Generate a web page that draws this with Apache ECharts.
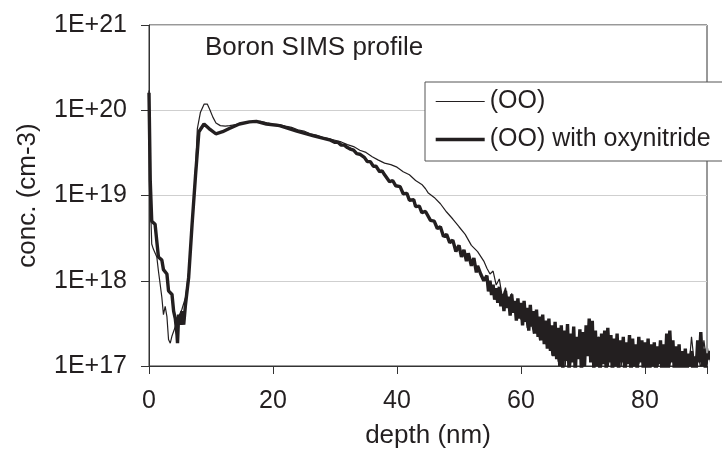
<!DOCTYPE html>
<html><head><meta charset="utf-8">
<script src="https://cdn.jsdelivr.net/npm/echarts@6/dist/echarts.min.js"></script>
<style>html,body{margin:0;padding:0;background:#fff}#c{width:722px;height:454px}</style>
</head><body><div id="c"></div>
<script>
const titleText = 'Boron SIMS profile';
const seriesNames = ['(OO)', '(OO) with oxynitride'];
const xTicks = [0, 20, 40, 60, 80];
const yTickLabels = ['1E+17', '1E+18', '1E+19', '1E+20', '1E+21'];

// (OO) thin line
const depthOO = [0,0.2,0.44,0.7,0.98,1.26,1.52,1.8,2.07,2.33,2.61,2.89,3.15,3.43,3.71,4.24,4.78,5.3,5.9,6.4,
  7.0,7.5,7.8,8.3,8.9,9.4,9.8,10.3,10.8,11.5,12.3,13,14,15,16,17,18,19,20,21,
  22,23,24,25,26,27,28,29,30,31,32,33,34,35,36,37,38,39,40,41,
  42,43,44,44.6,45,46,47,48,49,50,51,52,53,54,
  54.5,55,55.5,56,56.5,57,57.5,58,58.5,59,59.5,60,60.5,61,61.5,62,62.5,63,63.5,64,
  64.5,65,65.5,66,66.5,67,67.5,68,68.5,69,69.5,70,70.5,71,71.5,72,72.5,73,73.5,74,
  74.5,75,75.5,76,76.5,77,77.5,78,78.5,79,79.5,80,80.5,81,81.5,82,82.5,83,83.5,84,
  84.5,85,85.5,86,86.5,87,87.5,88,88.5,89,89.5,90,90.5,91];
const concOO = [1.7e20,1.0e19,2.7e18,2.35e18,2.45e18,1.9e18,1.3e18,9.1e17,6.4e17,4.0e17,5.0e17,3.8e17,2.05e17,1.85e17,2.25e17,2.9e17,3.8e17,4.6e17,6.4e17,1.26e18,
  4.8e18,2.1e19,6.1e19,9.5e19,1.18e20,1.18e20,1.02e20,8.3e19,7.1e19,6.6e19,6.5e19,6.6e19,6.8e19,7.0e19,7.3e19,7.4e19,7.4e19,7.1e19,6.9e19,6.8e19,
  6.5e19,6.3e19,5.9e19,5.7e19,5.3e19,5.1e19,4.8e19,4.65e19,4.45e19,4.25e19,3.95e19,3.75e19,3.4e19,3.2e19,2.85e19,2.6e19,2.4e19,2.3e19,2.15e19,1.9e19,
  1.75e19,1.5e19,1.35e19,1.2e19,1.08e19,9.5e18,8.0e18,6.4e18,5.3e18,4.3e18,3.5e18,2.6e18,2.2e18,1.7e18,
  1.4e18,1.2e18,1.3e18,8.9e17,1.05e18,6.3e17,8.3e17,5.0e17,7.1e17,4.2e17,5.6e17,3.5e17,5.2e17,2.8e17,4.0e17,2.4e17,3.5e17,2.0e17,3.0e17,1.8e17,
  2.6e17,1.32e17,2.4e17,1.12e17,2.2e17,7.9e16,2.0e17,1.0e17,2.5e17,1.26e17,1.9e17,8.9e16,2.6e17,1.4e17,3.2e17,1.2e17,2.2e17,1.0e17,1.8e17,8.3e16,
  2.2e17,1.12e17,1.9e17,7.9e16,1.66e17,1.0e17,2.0e17,8.9e16,1.6e17,1.05e17,1.8e17,7.9e16,1.9e17,1.0e17,1.5e17,8.3e16,1.8e17,8.9e16,2.1e17,1.0e17,
  1.6e17,8.3e16,1.4e17,8.9e16,1.32e17,7.9e16,2.2e17,1.0e17,1.6e17,8.9e16,2.0e17,1.05e17,1.8e17,1.26e17];

// (OO) with oxynitride thick line
const depthON = [0,0.2,0.44,0.98,1.26,1.52,2.07,2.33,2.89,3.15,3.71,3.97,4.24,4.52,4.6,4.78,5.06,5.33,5.6,5.88,
  6.4,6.94,7.5,8.05,8.87,9.68,10.78,11.87,12.95,14.58,16.21,17.31,18.94,21.06,23.84,26.56,29.27,
  30,30.5,31,31.5,32,32.5,33,33.5,34,34.73,35.2,35.7,36.2,36.62,37.2,37.6,
  38,38.8,39.3,39.8,40.5,41,41.6,42,42.7,43,43.6,44,44.6,45.4,46,46.5,47,47.5,48,48.5,49,
  49.5,50,50.4,50.8,51.2,51.5,52,52.4,52.8,53,53.5,54,
  54.25,54.5,54.75,55, 55.25,55.5,55.75,56, 56.25,56.5,56.75,57, 57.25,57.5,57.75,58, 58.25,58.5,58.75,59,
  59.25,59.5,59.75,60, 60.25,60.5,60.75,61, 61.25,61.5,61.75,62, 62.25,62.5,62.75,63, 63.25,63.5,63.75,64,
  64.25,64.5,64.75,65, 65.25,65.5,65.75,66, 66.25,66.5,66.75,67, 67.25,67.5,67.75,68, 68.25,68.5,68.75,69,
  69.25,69.5,69.75,70, 70.25,70.5,70.75,71, 71.25,71.5,71.75,72, 72.25,72.5,72.75,73, 73.25,73.5,73.75,74,
  74.25,74.5,74.75,75, 75.25,75.5,75.75,76, 76.25,76.5,76.75,77, 77.25,77.5,77.75,78, 78.25,78.5,78.75,79,
  79.25,79.5,79.75,80, 80.25,80.5,80.75,81, 81.25,81.5,81.75,82, 82.25,82.5,82.75,83, 83.25,83.5,83.75,84,
  84.25,84.5,84.75,85, 85.25,85.5,85.75,86, 86.25,86.5,86.75,87, 87.25,87.5,87.75,88, 88.25,88.5,88.75,89,
  89.25,89.5,89.75,90, 90.25,90.5,90.75,91];
const concON = [1.6e20,1.5e19,5.0e18,4.6e18,2.9e18,1.9e18,1.75e18,1.35e18,1.2e18,7.6e17,6.9e17,4.4e17,3.6e17,2.3e17,1.85e17,4.0e17,3.05e17,4.4e17,3.05e17,5.2e17,
  1.1e18,4.5e18,1.7e19,5.6e19,6.9e19,6.1e19,5.3e19,5.6e19,6.1e19,6.9e19,7.3e19,7.4e19,6.9e19,6.6e19,5.7e19,5.0e19,4.45e19,
  4.2e19,4.2e19,3.9e19,3.9e19,3.65e19,3.5e19,3.4e19,3.1e19,3.05e19,2.8e19,2.5e19,2.5e19,2.2e19,2.2e19,1.9e19,1.95e19,
  1.75e19,1.45e19,1.5e19,1.3e19,1.27e19,1.05e19,1.06e19,8.8e18,8.9e18,7.4e18,7.5e18,6.3e18,6.5e18,5.1e18,5.0e18,4.1e18,4.3e18,3.3e18,3.5e18,2.8e18,3.0e18,
  2.2e18,2.6e18,1.9e18,2.3e18,1.7e18,2.1e18,1.5e18,1.85e18,1.25e18,1.5e18,1.2e18,1.0e18,
  9.5e17,1.15e18,7.5e17,1.0e18, 6.8e17,9.0e17,6.0e17,8.2e17, 5.5e17,8.5e17,5.0e17,7.0e17, 4.4e17,7.6e17,4.8e17,6.5e17, 3.9e17,6.9e17,4.2e17,5.8e17,
  3.4e17,6.2e17,3.6e17,5.5e17, 3.0e17,5.8e17,3.3e17,4.8e17, 2.6e17,5.2e17,2.9e17,4.4e17, 2.4e17,4.6e17,2.2e17,3.8e17, 2.0e17,4.0e17,1.8e17,3.4e17,
  1.6e17,3.6e17,1.5e17,3.0e17, 1.3e17,3.3e17,1.2e17,2.8e17, 1.0e17,3.0e17,9.0e16,2.6e17, 1.15e17,3.1e17,8.5e16,2.4e17, 1.1e17,2.9e17,8.0e16,2.2e17,
  1.2e17,2.7e17,8.5e16,2.5e17, 1.0e17,3.0e17,1.3e17,3.6e17, 1.1e17,3.4e17,9.0e16,2.6e17, 1.0e17,2.2e17,8.0e16,2.4e17, 1.05e17,2.6e17,8.5e16,2.8e17,
  1.1e17,2.3e17,8.0e16,2.1e17, 1.0e17,2.4e17,8.5e16,2.0e17, 1.1e17,2.2e17,7.5e16,1.9e17, 1.05e17,2.3e17,8.0e16,2.1e17, 1.0e17,1.8e17,8.5e16,2.2e17,
  1.1e17,2.0e17,8.0e16,1.9e17, 9.5e16,2.1e17,8.0e16,1.8e17, 1.0e17,1.9e17,7.5e16,1.7e17, 1.05e17,2.0e17,8.0e16,1.8e17, 9.0e16,2.4e17,8.5e16,2.6e17,
  1.1e17,2.0e17,8.0e16,1.7e17, 9.5e16,1.8e17,7.5e16,1.5e17, 9.0e16,1.6e17,8.0e16,1.4e17, 1.0e17,1.5e17,8.0e16,1.3e17, 9.0e16,2.0e17,1.1e17,2.5e17,
  1.0e17,1.6e17,9.0e16,1.4e17, 1.2e17,1.5e17,1.1e17,1.3e17];

function zip(xs, ys) {
  const n = Math.min(xs.length, ys.length);
  const out = [];
  for (let i = 0; i < n; i++) out.push([xs[i], ys[i]]);
  return out;
}

const FONT = "'Liberation Sans', Arial, sans-serif";
const INK = '#231f20';
const chart = echarts.init(document.getElementById('c'));
chart.setOption({
  animation: false,
  backgroundColor: '#fff',
  title: {
    text: titleText, left: 205, top: 35, padding: 0,
    textStyle: { fontFamily: FONT, fontSize: 26, fontWeight: 'normal', color: INK }
  },
  legend: {
    data: seriesNames,
    orient: 'vertical', left: 425, top: 82,
    padding: [7, 24, 9, 9], itemGap: 13, itemWidth: 49, itemHeight: 14,
    backgroundColor: '#fff', borderColor: '#555', borderWidth: 1, borderRadius: 0,
    itemStyle: { opacity: 0 },
    lineStyle: { width: 'inherit' },
    textStyle: { fontFamily: FONT, fontSize: 25, color: INK, lineHeight: 25 }
  },
  grid: { left: 149, right: 15, top: 25, bottom: 84, show: true, borderColor: '#333', borderWidth: 1, backgroundColor: 'transparent' },
  xAxis: {
    type: 'value', min: 0, max: 90, interval: 20,
    name: 'depth (nm)', nameLocation: 'middle', nameGap: 57,
    nameTextStyle: { fontFamily: FONT, fontSize: 26, color: INK },
    axisLine: { show: true, lineStyle: { color: '#333', width: 1 } },
    axisTick: { show: true, length: 8, lineStyle: { color: '#333' } },
    splitLine: { show: false },
    axisLabel: {
      fontFamily: FONT, fontSize: 25, color: INK, margin: 23,
      formatter: v => (xTicks.indexOf(v) >= 0 ? String(v) : '')
    }
  },
  yAxis: {
    type: 'log', logBase: 10, min: 1e17, max: 1e21,
    name: 'conc. (cm-3)', nameLocation: 'middle', nameGap: 108,
    nameTextStyle: { fontFamily: FONT, fontSize: 26, color: INK },
    axisLine: { show: true, lineStyle: { color: '#333', width: 1 } },
    axisTick: { show: true, length: 8, lineStyle: { color: '#333' } },
    minorTick: { show: false },
    splitLine: { show: true, lineStyle: { color: '#cfcfcf', width: 1 } },
    axisLabel: {
      fontFamily: FONT, fontSize: 25, color: INK, margin: 22,
      formatter: v => yTickLabels[Math.round(Math.log10(v)) - 17] || ''
    }
  },
  series: [
    { name: seriesNames[0], type: 'line', data: zip(depthOO, concOO), symbol: 'none', clip: true,
      lineStyle: { color: INK, width: 1.2 }, itemStyle: { color: INK } },
    { name: seriesNames[1], type: 'line', data: zip(depthON, concON), symbol: 'none', clip: true,
      lineStyle: { color: INK, width: 3.4 }, itemStyle: { color: INK } }
  ]
});
</script>
</body></html>
